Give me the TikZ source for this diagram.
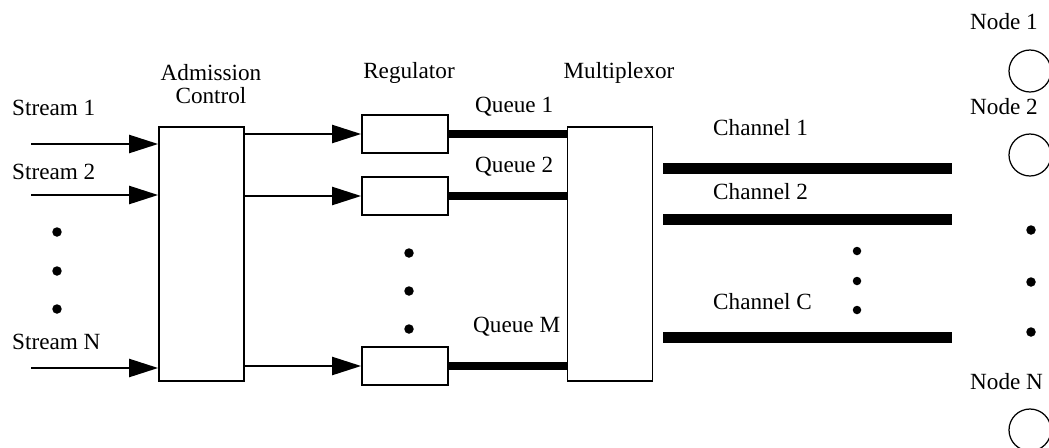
\documentclass[tikz,border=0pt]{standalone}
\usepackage{fontspec}
\setmainfont{Liberation Serif}
\usetikzlibrary{shapes, arrows.meta, positioning}
\tikzstyle{block} = [rectangle, draw, line width=1pt, minimum width=1.7cm, minimum height=5.08cm]
\tikzstyle{regbox} = [rectangle, draw, line width=1pt, minimum width=1.72cm, minimum height=0.76cm]
\tikzstyle{line} = [draw, line width=1.3pt, -{Triangle[length=0.58cm,width=0.36cm]}]
\tikzstyle{queue} = [draw, line width=4pt]
\tikzstyle{chanbar} = [rectangle, fill=black, minimum width=5.78cm, minimum height=0.22cm, inner sep=0pt]
\tikzstyle{station} = [circle, draw, line width=0.7pt, minimum size=0.84cm, inner sep=0pt]

\begin{document}
\begin{tikzpicture}[x=0.02cm, y=-0.02cm]
\tikzstyle{every node}=[font=\fontsize{13.2}{12.8}\selectfont]
\useasboundingbox (0,0) rectangle (1049,447);
% streams
\node[anchor=west] (stream_1) at (6,108) {Stream 1};
\node[anchor=west] (stream_2) at (6,172) {Stream 2};
\node[anchor=west] (stream_n) at (6,342) {Stream N};
\coordinate (in_1) at (31,144);
\coordinate (in_2) at (31,195);
\coordinate (in_n) at (31,368);
\fill (57,232) circle (0.095cm);
\fill (57,271) circle (0.095cm);
\fill (57,309) circle (0.095cm);
% admission control
\node[block] (adm_ctrl) at (201.5,254) {};
\node[align=center] (adm_lbl) at (211,84) {Admission\\Control};
\path [line] (in_1) -- (in_1 -| adm_ctrl.west);
\path [line] (in_2) -- (in_2 -| adm_ctrl.west);
\path [line] (in_n) -- (in_n -| adm_ctrl.west);
% regulators
\node (reg_lbl) at (409,73) {Regulator};
\node[regbox] (reg_1) at (405,134) {};
\node[regbox] (reg_2) at (405,196) {};
\node[regbox] (reg_m) at (405,366) {};
\path [line] (adm_ctrl.east |- reg_1) -- (reg_1.west);
\path [line] (adm_ctrl.east |- reg_2) -- (reg_2.west);
\path [line] (adm_ctrl.east |- reg_m) -- (reg_m.west);
\fill (409,253) circle (0.095cm);
\fill (409,291) circle (0.095cm);
\fill (409,329) circle (0.095cm);
% multiplexor and queues
\node (mux_lbl) at (619,73) {Multiplexor};
\node[block] (mux) at (610,254) {};
\path [queue] (reg_1.east) -- (reg_1.east -| mux.west);
\path [queue] (reg_2.east) -- (reg_2.east -| mux.west);
\path [queue] (reg_m.east) -- (reg_m.east -| mux.west);
\node[anchor=west] (q_1) at (469,107) {Queue 1};
\node[anchor=west] (q_2) at (469,167) {Queue 2};
\node[anchor=west] (q_m) at (467,327) {Queue M};
% channels
\node[chanbar] (chan_1) at (807.5,168) {};
\node[chanbar] (chan_2) at (807.5,219) {};
\node[chanbar] (chan_c) at (807.5,337) {};
\node[anchor=west] (c_1) at (707,128) {Channel 1};
\node[anchor=west] (c_2) at (707,192) {Channel 2};
\node[anchor=west] (c_c) at (707,302) {Channel C};
\fill (857,251) circle (0.085cm);
\fill (857,281) circle (0.085cm);
\fill (857,310) circle (0.085cm);
% nodes
\node[anchor=west] (n_1) at (964,22) {Node 1};
\node[anchor=west] (n_2) at (964,107) {Node 2};
\node[anchor=west] (n_n) at (964,382) {Node N};
\node[station] (node_1) at (1030,71) {};
\node[station] (node_2) at (1030,155) {};
\node[station] (node_n) at (1030,430) {};
\fill (1031,230) circle (0.095cm);
\fill (1031,282) circle (0.095cm);
\fill (1031,332) circle (0.095cm);
\end{tikzpicture}
\end{document}
